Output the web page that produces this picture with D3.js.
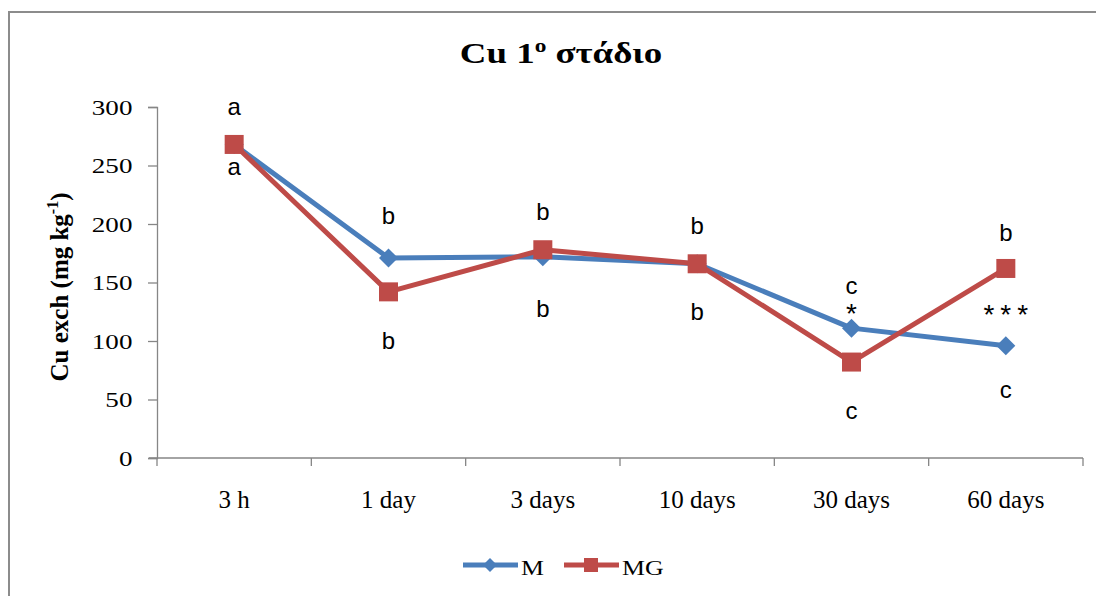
<!DOCTYPE html>
<html>
<head>
<meta charset="utf-8">
<script src="https://cdn.jsdelivr.net/npm/d3@7"></script>
<style>
  html, body { margin: 0; padding: 0; background: #fff; }
  svg { display: block; }
</style>
</head>
<body>
<svg id="chart" width="1096" height="596"></svg>
<script>
// Exchangeable Cu over time for the two treatments
const categories = ["3 h", "1 day", "3 days", "10 days", "30 days", "60 days"];
const mValues  = [268, 171, 172, 166, 111, 96];
const mgValues = [268, 142, 178, 166, 82, 162];
const yTicks = [0, 50, 100, 150, 200, 250, 300];

// Significance letters: upper label belongs to the higher point, lower to the lower one
const upperLetters = ["a", "b", "b", "b", "c", "b"];
const lowerLetters = ["a", "b", "b", "b", "c", "c"];
// Asterisks comparing M with MG at each sampling time
const signifMarks  = ["", "", "", "", "*", "***"];

const svg = d3.select("#chart");
const W = 1096, H = 596;
const plot = { left: 157, right: 1083, top: 107, bottom: 458 };
const serif = "'Liberation Serif', 'Times New Roman', serif";
const wide = 1.23; // horizontal widening of the serif text

// Chart area frame
svg.append("rect")
  .attr("x", 9).attr("y", 12)
  .attr("width", W + 20).attr("height", H + 20)
  .attr("fill", "#fff")
  .attr("stroke", "#8c8c8c").attr("stroke-width", 2);

const x = d3.scaleBand().domain(categories).range([plot.left, plot.right]);
const y = d3.scaleLinear().domain([0, 300]).range([plot.bottom, plot.top]);
const cx = c => x(c) + x.bandwidth() / 2;

const axisColor = "#868686";

// Y axis
const yAxis = svg.append("g")
  .attr("transform", `translate(${plot.left},0)`)
  .call(d3.axisLeft(y).tickValues(yTicks).tickSize(9).tickPadding(11));
yAxis.select(".domain").attr("stroke", axisColor).attr("stroke-width", 1.3);
yAxis.selectAll(".tick line").attr("stroke", axisColor).attr("stroke-width", 1.3);
yAxis.selectAll(".tick text")
  .attr("font-family", serif)
  .attr("font-size", 22).attr("fill", "#000")
  .attr("transform", `scale(${wide},1)`);

// X axis: ticks sit on band boundaries
const xAxisG = svg.append("g").attr("transform", `translate(0,${plot.bottom})`);
xAxisG.append("line")
  .attr("x1", plot.left - 8).attr("x2", plot.right)
  .attr("stroke", axisColor).attr("stroke-width", 1.3);
const boundaries = categories.map(c => x(c)).concat([plot.right]);
xAxisG.selectAll("line.tick")
  .data(boundaries)
  .join("line")
  .attr("class", "tick")
  .attr("x1", d => d).attr("x2", d => d)
  .attr("y1", 0).attr("y2", 8)
  .attr("stroke", axisColor).attr("stroke-width", 1.3);
xAxisG.selectAll("text")
  .data(categories)
  .join("text")
  .attr("x", d => cx(d))
  .attr("y", 50)
  .attr("text-anchor", "middle")
  .attr("font-family", serif)
  .attr("font-size", 25)
  .attr("fill", "#000")
  .text(d => d);

// Title
const title = svg.append("text")
  .attr("transform", `translate(561,63) scale(${wide},1)`)
  .attr("text-anchor", "middle")
  .attr("font-family", serif)
  .attr("font-weight", "bold")
  .attr("font-size", 30)
  .attr("fill", "#000");
title.append("tspan").text("Cu 1");
title.append("tspan").attr("font-size", 19).attr("dy", -11).text("ο");
title.append("tspan").attr("dy", 11).text(" στάδιο");

// Y axis title
const yTitle = svg.append("text")
  .attr("transform", "translate(68,287) rotate(-90)")
  .attr("text-anchor", "middle")
  .attr("font-family", serif)
  .attr("font-weight", "bold")
  .attr("font-size", 25)
  .attr("fill", "#000");
yTitle.append("tspan").text("Cu exch (mg kg");
yTitle.append("tspan").attr("font-size", 16).attr("dy", -10).text("-1");
yTitle.append("tspan").attr("dy", 10).text(")");

const blue = "#4A7EBB", red = "#BE4B48";
const line = d3.line().x((d, i) => cx(categories[i])).y(d => y(d));

// M series
svg.append("path").datum(mValues)
  .attr("d", line).attr("fill", "none")
  .attr("stroke", blue).attr("stroke-width", 5).attr("stroke-linejoin", "round");
const diamond = s => `M0,${-s}L${s},0L0,${s}L${-s},0Z`;
svg.selectAll("path.mk-m").data(mValues).join("path")
  .attr("class", "mk-m")
  .attr("transform", (d, i) => `translate(${cx(categories[i])},${y(d)})`)
  .attr("d", diamond(9.5))
  .attr("fill", blue);

// MG series
svg.append("path").datum(mgValues)
  .attr("d", line).attr("fill", "none")
  .attr("stroke", red).attr("stroke-width", 5).attr("stroke-linejoin", "round");
svg.selectAll("rect.mk-mg").data(mgValues).join("rect")
  .attr("class", "mk-mg")
  .attr("x", (d, i) => cx(categories[i]) - 9.5)
  .attr("y", d => y(d) - 9.5)
  .attr("width", 19).attr("height", 19)
  .attr("fill", red);

// Letter annotations
const upperGap = [36, 41, 37, 37, 41, 34];
const lowerGap = [24, 50, 53, 49, 50, 45];
const ann = svg.append("g")
  .attr("font-family", "'Liberation Sans', Arial, sans-serif").attr("font-size", 24)
  .attr("text-anchor", "middle").attr("fill", "#000");
categories.forEach((c, i) => {
  const hi = Math.max(mValues[i], mgValues[i]);
  const lo = Math.min(mValues[i], mgValues[i]);
  ann.append("text")
    .attr("x", cx(c)).attr("y", y(hi) - upperGap[i] + 7)
    .text(upperLetters[i]);
  ann.append("text")
    .attr("x", cx(c)).attr("y", y(lo) + lowerGap[i] + 7)
    .text(lowerLetters[i]);
  if (signifMarks[i]) {
    const mid = (y(mValues[i]) + y(mgValues[i])) / 2;
    const yy = signifMarks[i].length === 1 ? y(mValues[i]) - 20 : mid + 2;
    ann.append("text")
      .attr("x", cx(c) + 3).attr("y", yy + 15)
      .attr("font-size", 28)
      .attr("letter-spacing", 6)
      .text(signifMarks[i]);
  }
});

// Legend
const legend = svg.append("g").attr("transform", "translate(0,565)");
const legendItems = [
  { name: "M",  color: blue, x0: 463, marker: "diamond" },
  { name: "MG", color: red,  x0: 564, marker: "square" }
];
legendItems.forEach(it => {
  legend.append("line")
    .attr("x1", it.x0).attr("x2", it.x0 + 55)
    .attr("stroke", it.color).attr("stroke-width", 5);
  if (it.marker === "diamond") {
    legend.append("path")
      .attr("transform", `translate(${it.x0 + 27},0)`)
      .attr("d", diamond(7)).attr("fill", it.color);
  } else {
    legend.append("rect")
      .attr("x", it.x0 + 27 - 7).attr("y", -7)
      .attr("width", 14).attr("height", 14).attr("fill", it.color);
  }
  legend.append("text")
    .attr("transform", `translate(${it.x0 + 58},10) scale(${wide},1)`)
    .attr("font-family", serif)
    .attr("font-size", 21).attr("fill", "#000")
    .text(it.name);
});
</script>
</body>
</html>
